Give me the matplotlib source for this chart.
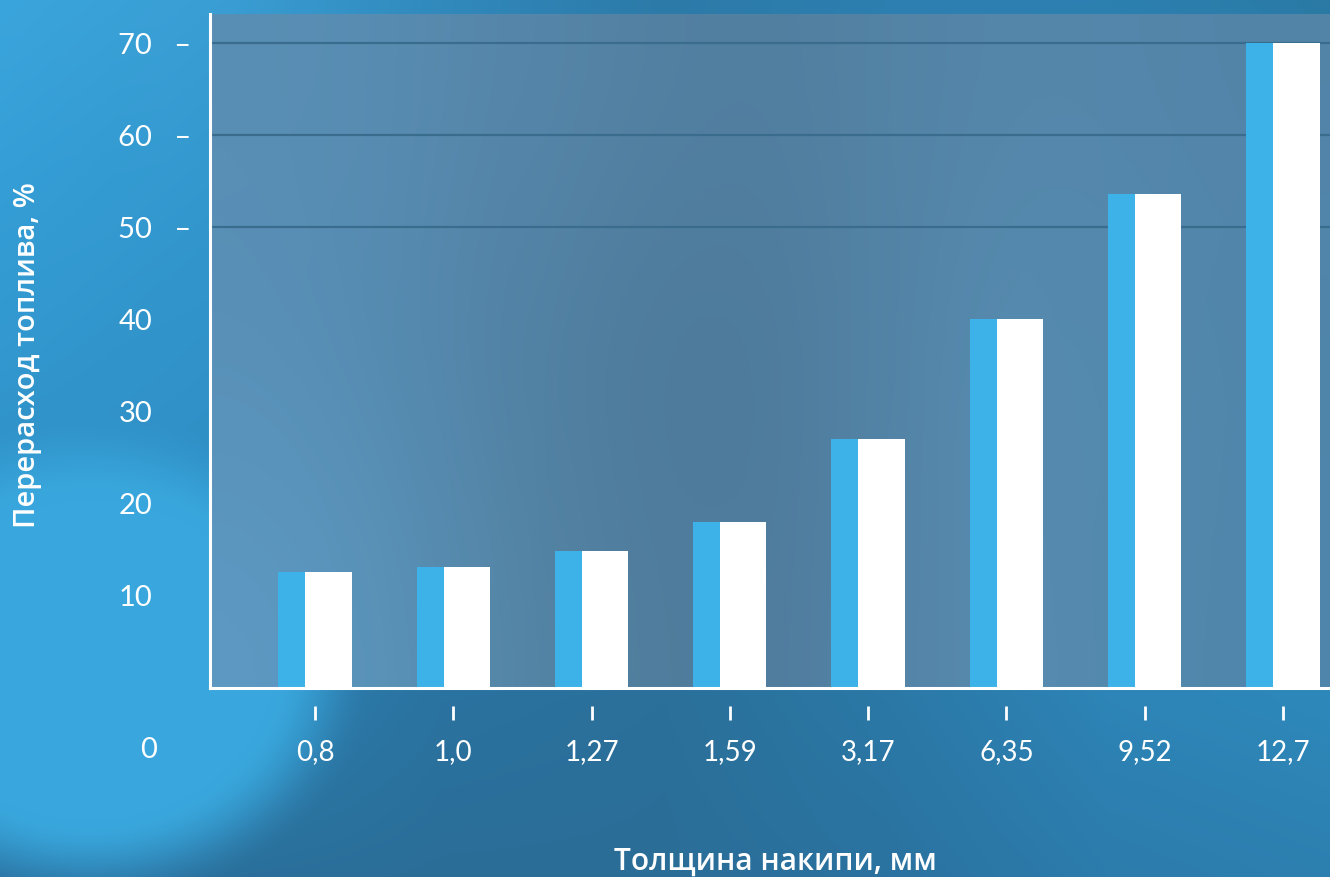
import matplotlib
matplotlib.use('Agg')
import matplotlib.pyplot as plt
import matplotlib.transforms as mtransforms
from matplotlib.colors import to_rgb
import numpy as np

plt.rcParams['font.family'] = ['Lato', 'Open Sans', 'DejaVu Sans']

# data
thickness = ['0,8', '1,0', '1,27', '1,59', '3,17', '6,35', '9,52', '12,7']
overuse = [12.6, 13.1, 14.9, 18.0, 27.0, 40.0, 53.6, 70.0]
yticks = [10, 20, 30, 40, 50, 60, 70]
grid_levels = [50, 60, 70]

blue = '#3db2e8'
white = '#ffffff'

# background colour grids (rows top->bottom, cols left->right)
outer = [
    ['#3aa5dc', '#3a9ed4', '#3189bc', '#2c7aa8', '#2c7fb0', '#2c80b0', '#2a7aa5'],
    ['#359ed6', '#3398ce', '#2f86b8', '#2c7cab', '#2d82b2', '#2e86b6', '#2c80ae'],
    ['#3298cf', '#3092c8', '#2d80b0', '#2b78a6', '#2d82b2', '#2f88b8', '#2d84b2'],
    ['#2f90c6', '#2f8ec4', '#2c7cab', '#2a74a2', '#2c7eae', '#2f88ba', '#2e88b8'],
    ['#2e86b8', '#2d80b0', '#2a72a0', '#2a709a', '#2b78a6', '#2d84b6', '#2e88ba'],
    ['#2a72a0', '#2a709c', '#2a6e98', '#2a6e98', '#2a72a0', '#2c7cac', '#2c80b0'],
]
panel = [
    ['#5a8fb5', '#5585a8', '#507c9c', '#5689ad', '#5284a8'],
    ['#5890b8', '#4f7e9f', '#4b7696', '#5990b5', '#5086aa'],
    ['#5d9ac4', '#53819f', '#4d7899', '#5b8fb3', '#4f85aa'],
]
glow = '#39a7dd'


def to_img(grid):
    return np.array([[to_rgb(c) for c in row] for row in grid])


def background(w=1330, h=877):
    g = to_img(outer)
    ny, nx = g.shape[:2]
    yy = np.linspace(0, ny - 1, h)
    xx = np.linspace(0, nx - 1, w)
    tmp = np.stack([np.array([np.interp(xx, np.arange(nx), g[r, :, c]) for c in range(3)]).T
                    for r in range(ny)])
    img = np.stack([np.array([np.interp(yy, np.arange(ny), tmp[:, col, c]) for c in range(3)]).T
                    for col in range(w)], axis=1)
    # bright glow in the lower left corner
    Y, X = np.mgrid[0:h, 0:w]
    d = np.hypot((X - 90) / 1.15, Y - 660)
    t = np.clip((250 - d) / 90, 0, 1)
    t = t * t * (3 - 2 * t)
    img = img * (1 - t[..., None]) + np.array(to_rgb(glow)) * t[..., None]
    return img


fig = plt.figure(figsize=(13.3, 8.77), dpi=100)

bg = fig.add_axes([0, 0, 1, 1], zorder=-1)
bg.imshow(background(), extent=(0, 1, 0, 1), aspect='auto')
bg.axis('off')

ax = fig.add_axes([210 / 1330, 1 - 688 / 877, 1120 / 1330, 674 / 877])
ax.set_facecolor('none')

x = np.arange(len(thickness))
xlim = (-0.759, 7.34)
ylim = (0, 73.15)
ax.imshow(to_img(panel), extent=(xlim[0], xlim[1], ylim[0], ylim[1]),
          aspect='auto', interpolation='bicubic', zorder=0)

for g in grid_levels:
    ax.axhline(g, color='#3a6c8e', lw=1.6, zorder=1)

ax.bar(x - 0.1675, overuse, width=0.195, color=blue, zorder=2)
ax.bar(x + 0.0975, overuse, width=0.335, color=white, zorder=3)

ax.set_xlim(*xlim)
ax.set_ylim(*ylim)

for s in ['top', 'right']:
    ax.spines[s].set_visible(False)
for s in ['left', 'bottom']:
    ax.spines[s].set_color('white')
    ax.spines[s].set_linewidth(2.2)
    ax.spines[s].set_zorder(5)

# y tick labels, dash only for the upper ones
ax.set_yticks(yticks)
ax.set_yticklabels([f'{v}   \u2013' if v in grid_levels else str(v) for v in yticks])
ax.tick_params(axis='y', length=0, pad=66, labelsize=21, labelcolor='white')
for lab in ax.get_yticklabels():
    lab.set_ha('left')
ax.text(-0.055, -6.73, '0', transform=mtransforms.blended_transform_factory(ax.transAxes, ax.transData),
        ha='center', va='center', fontsize=21, color='white', clip_on=False)

# x ticks: detached marks below the axis
ax.set_xticks(x)
ax.set_xticklabels(thickness)
ax.tick_params(axis='x', length=0, pad=37, labelsize=20, labelcolor='white')
ax.plot(x, [-2.7] * len(x), ls='none', marker='|', ms=10, mew=2.0, color='white', clip_on=False)

fig.text(28 / 1330, 1 - 355 / 877, 'Перерасход топлива, %', rotation=90, ha='center', va='center',
         fontsize=21, color='white', fontweight='semibold', family=['Open Sans', 'DejaVu Sans'])
fig.text(775 / 1330, 1 - 862 / 877, 'Толщина накипи, мм', ha='center', va='center',
         fontsize=21.5, color='white', fontweight='semibold', family=['Open Sans', 'DejaVu Sans'])

fig.savefig('out.png', dpi=100)
